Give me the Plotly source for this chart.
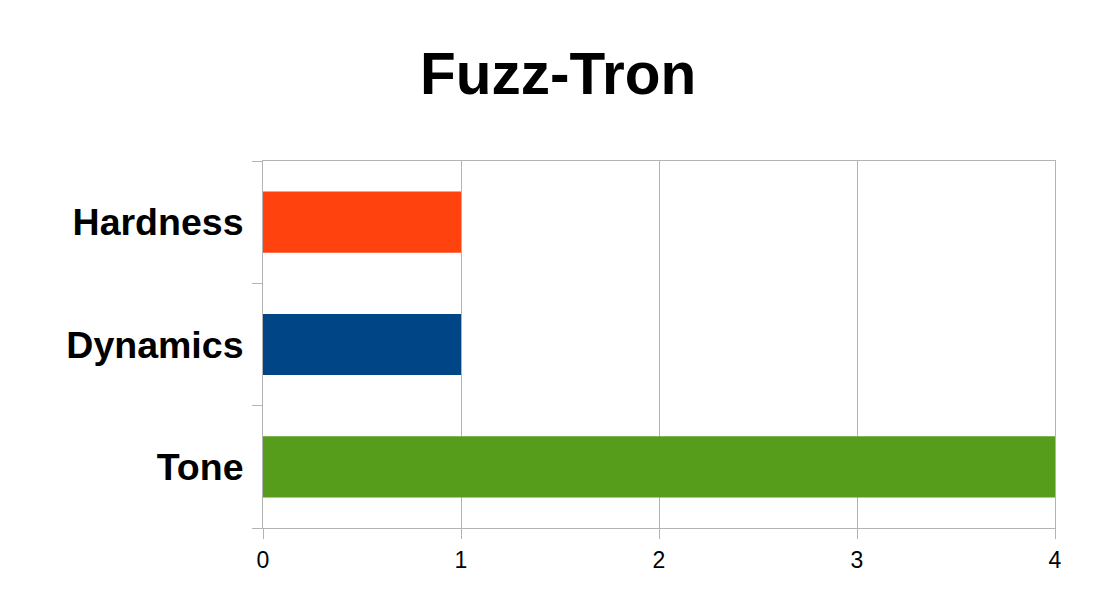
import plotly.graph_objects as go

# -----------------------------
# Data: ratings per category (bottom to top)
# -----------------------------
categories = ["Tone", "Dynamics", "Hardness"]
ratings = [4, 1, 1]
bar_colors = ["#579d1c", "#004586", "#ff420e"]
x_ticks = [0, 1, 2, 3, 4]

grey = "#b3b3b3"
font_family = "Liberation Sans, Arial, sans-serif"

fig = go.Figure(
    go.Bar(
        x=ratings,
        y=categories,
        orientation="h",
        marker=dict(color=bar_colors, line=dict(width=0)),
    )
)

# page has an 8px body margin, so the figure is sized a bit smaller
fig.update_layout(
    width=1092,
    height=592,
    margin=dict(l=255, r=45, t=153, b=72),
    paper_bgcolor="white",
    plot_bgcolor="white",
    bargap=0.5,
    showlegend=False,
    title=dict(
        text="<b>Fuzz-Tron</b>",
        x=0.5037,
        xanchor="center",
        y=0.89,
        yanchor="middle",
        font=dict(family=font_family, size=58.5, color="black"),
    ),
)

fig.update_xaxes(
    range=[0, 4],
    tickvals=x_ticks,
    showgrid=True,
    gridcolor=grey,
    gridwidth=1,
    showline=True,
    linecolor=grey,
    linewidth=1,
    mirror=True,
    ticks="outside",
    ticklen=10,
    tickcolor=grey,
    zeroline=False,
    ticklabelstandoff=1,
    tickfont=dict(family=font_family, size=23, color="black"),
)

fig.update_yaxes(
    showgrid=False,
    showline=True,
    linecolor=grey,
    linewidth=1,
    mirror=True,
    ticks="outside",
    tickson="boundaries",
    ticklen=10,
    tickcolor=grey,
    ticklabelstandoff=11,
    tickfont=dict(family=font_family, size=37.5, color="black"),
    tickprefix="<b>",
    ticksuffix="</b>",
)

fig.write_html("out.html")
